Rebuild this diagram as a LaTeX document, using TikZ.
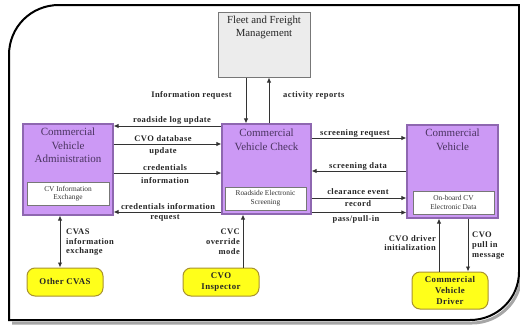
\documentclass[tikz,border=0pt]{standalone}
\usepackage{fontspec}
\setmainfont{Liberation Serif}
\newfontfamily\lblfont[LetterSpace=5]{Liberation Serif}
\usetikzlibrary{arrows.meta}
\definecolor{pfill}{HTML}{CC99F5}
\definecolor{pdraw}{HTML}{8E67B0}
\definecolor{ptext}{HTML}{4A3360}
\definecolor{yfill}{HTML}{FFFF1A}
\definecolor{ydraw}{HTML}{A8922E}
\definecolor{gfill}{HTML}{ECECEC}
\definecolor{gdraw}{HTML}{777777}
\definecolor{lnc}{HTML}{333333}
\begin{document}
\begin{tikzpicture}[x=1pt,y=-1pt,
  purplebox/.style={draw=pdraw,fill=pfill,line width=1.2pt,minimum width=#1,inner sep=0pt},
  innerbox/.style={draw=gdraw,fill=white,line width=0.7pt,inner sep=0pt,align=center,
     font=\fontsize{7.4}{8.6}\selectfont,text=black!80},
  yellowbox/.style={draw=ydraw,fill=yfill,line width=1pt,rounded corners=8pt,inner sep=0pt,
     align=center,font=\lblfont\fontsize{8.8}{11.5}\selectfont\bfseries,text=black!85},
  title/.style={inner sep=0pt,align=center,font=\fontsize{11}{13.5}\selectfont,text=ptext},
  lbl/.style={inner sep=0pt,align=center,font=\lblfont\fontsize{8.5}{10}\selectfont\bfseries,text=black!85},
  arr/.style={draw=lnc,line width=0.9pt,-{Latex[length=5pt,width=4.5pt]}},
  darr/.style={draw=lnc,line width=0.9pt,{Latex[length=5pt,width=4.5pt]}-{Latex[length=5pt,width=4.5pt]}}
]
\useasboundingbox (0,0) rectangle (520,330);
% frame shadow
\draw[black!35,line width=3pt] (12,323) -- (472,323) .. controls (499,323) and (521,301) .. (521,275);
% frame
\draw[line width=2pt] (9,55) .. controls (9,27) and (31,5) .. (59,5) -- (519,5) -- (519,272)
   .. controls (519,298.5) and (497,320) .. (470,320) -- (9,320) -- cycle;

% main boxes
\node[draw=gdraw,fill=gfill,line width=1pt,minimum width=92pt,minimum height=65pt,inner sep=0pt] (fleet) at (264,44.5) {};
\node[inner sep=0pt,align=center,font=\fontsize{10.8}{13}\selectfont,text=black!85,anchor=north] (fleett) at (264,15.5) {Fleet and Freight\\Management};

\node[purplebox=90pt,minimum height=91pt] (cva) at (68,169.5) {};
\node[title,anchor=north] (cvat) at (68,128) {Commercial\\Vehicle\\Administration};
\node[innerbox,minimum width=82pt,minimum height=23pt] (cvai) at (68,193.5) {CV Information\\Exchange};

\node[purplebox=89pt,minimum height=90pt] (cvc) at (266.5,169) {};
\node[title,anchor=north] (cvct) at (266.5,129) {Commercial\\Vehicle Check};
\node[innerbox,minimum width=81pt,minimum height=23pt] (cvci) at (265.5,198.5) {Roadside Electronic\\Screening};

\node[purplebox=91pt,minimum height=93pt] (cv) at (452.5,171.5) {};
\node[title,anchor=north] (cvt) at (452.5,129) {Commercial\\Vehicle};
\node[innerbox,minimum width=81pt,minimum height=23pt] (cvi) at (453.5,202.5) {On-board CV\\Electronic Data};

% yellow boxes
\node[yellowbox,minimum width=76pt,minimum height=28pt] (ocvas) at (65,282) {Other CVAS};
\node[yellowbox,minimum width=76pt,minimum height=28pt] (insp) at (221,282) {CVO\\Inspector};
\node[yellowbox,minimum width=76pt,minimum height=37pt,font=\lblfont\fontsize{8.8}{11}\selectfont\bfseries] (drv) at (450,290.5) {Commercial\\Vehicle\\Driver};

% helper coordinates
\coordinate (xa) at (246,0);
\coordinate (xb) at (269,0);
\coordinate (ya) at (0,126);
\coordinate (yb) at (0,144);
\coordinate (yc) at (0,173);
\coordinate (yd) at (0,212);
\coordinate (ye) at (0,138);
\coordinate (yf) at (0,171);
\coordinate (yg) at (0,198);
\coordinate (yh) at (0,212.5);
\coordinate (xc) at (60,0);
\coordinate (xd) at (243,0);
\coordinate (xe) at (439,0);
\coordinate (xf) at (468,0);

% fleet arrows
\draw[arr] (fleet.south -| xa) -- (cvc.north -| xa);
\draw[arr] (cvc.north -| xb) -- (fleet.south -| xb);
\node[lbl,anchor=east] (l1) at (232,95) {Information request};
\node[lbl,anchor=west] (l2) at (283,95) {activity reports};

% CVA <-> CVC
\draw[arr] (cvc.west |- ya) -- (cva.east |- ya);
\node[lbl] (l3) at (172,120.5) {roadside log update};
\draw[arr] (cva.east |- yb) -- (cvc.west |- yb);
\node[lbl] (l4) at (163,139) {CVO database};
\node[lbl] (l5) at (163,151) {update};
\draw[arr] (cva.east |- yc) -- (cvc.west |- yc);
\node[lbl] (l6) at (165,167.5) {credentials};
\node[lbl] (l7) at (165,180.5) {information};
\draw[arr] (cvc.west |- yd) -- (cva.east |- yd);
\node[lbl] (l8) at (168,207) {credentials information};
\node[lbl] (l9) at (165,218.5) {request};

% CVC <-> CV
\draw[arr] (cvc.east |- ye) -- (cv.west |- ye);
\node[lbl] (l10) at (355,133) {screening request};
\draw[arr] (cv.west |- yf) -- (cvc.east |- yf);
\node[lbl] (l11) at (358,166.5) {screening data};
\draw[arr] (cvc.east |- yg) -- (cv.west |- yg);
\node[lbl] (l12) at (358,191.5) {clearance event};
\node[lbl] (l13) at (358,203.5) {record};
\draw[arr] (cvc.east |- yh) -- (cv.west |- yh);
\node[lbl] (l14) at (356,219.5) {pass/pull-in};

% bottom
\draw[darr] (cva.south -| xc) -- (ocvas.north -| xc);
\node[lbl,anchor=north west,align=left,font=\lblfont\fontsize{8.5}{9.8}\selectfont\bfseries] (l15) at (66,228.5) {CVAS\\information\\exchange};
\draw[arr] (insp.north -| xd) -- (cvc.south -| xd);
\node[lbl,anchor=north east,align=right,font=\lblfont\fontsize{8.5}{9.8}\selectfont\bfseries] (l16) at (240,229) {CVC\\override\\mode};
\draw[arr] (drv.north -| xe) -- (cv.south -| xe);
\node[lbl,anchor=north east,align=right,font=\lblfont\fontsize{8.5}{9.8}\selectfont\bfseries] (l17) at (436,235) {CVO driver\\initialization};
\draw[arr] (cv.south -| xf) -- (drv.north -| xf);
\node[lbl,anchor=north west,align=left,font=\lblfont\fontsize{8.5}{9.8}\selectfont\bfseries] (l18) at (472,232) {CVO\\pull in\\message};
\end{tikzpicture}
\end{document}
